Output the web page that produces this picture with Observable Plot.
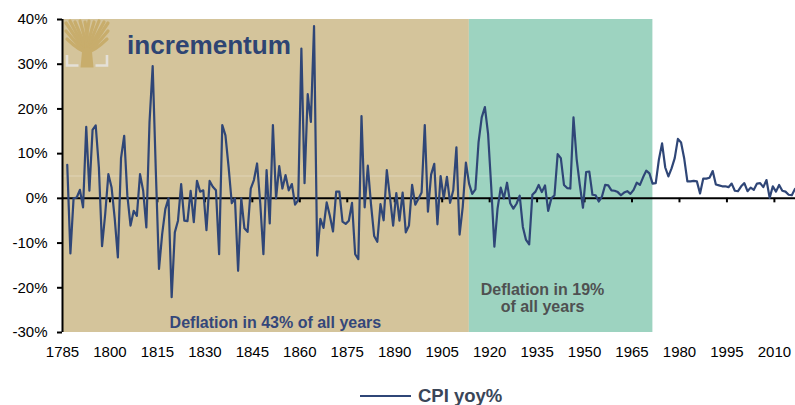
<!DOCTYPE html>
<html>
<head>
<meta charset="utf-8">
<script src="https://cdn.jsdelivr.net/npm/d3@7"></script>
<script src="https://cdn.jsdelivr.net/npm/@observablehq/plot@0.6"></script>
<style>
  body { margin: 0; background: #fff; font-family: "Liberation Sans", Arial, sans-serif; }
  #wrap { position: relative; width: 795px; height: 405px; overflow: hidden; }
  #logo { position: absolute; left: 0; top: 0; pointer-events: none; }
  #legend { position: absolute; left: 0; top: 370px; width: 795px; height: 35px; }
</style>
</head>
<body>
<div id="wrap"></div>
<script>
// ---- data ----
const startYear = 1786;
const cpiYoY = [
  7.5, -12.3, 0, 0.2, 1.9, -2, 16, 1.7, 15.3, 16.3,            // 1786-1795
  6.9, -10.7, -3.5, 5.4, 2.5, -4.5, -13.2, 9, 14, 0.6,          // 1796-1805
  -6.1, -2.8, -3.9, 5.4, 1.7, -6.5, 17, 29.6, 6, -15.8,         // 1806-1815
  -8, -2.4, 0, -22.1, -7.6, -5, 3.2, -5, -5.1, 1.7,             // 1816-1825
  -5.3, 3.9, 1.5, 1.8, -7.1, 3.9, 2.6, 1.8, -12.5, 16.4,        // 1826-1835
  14.1, 7, -1.1, 0, -16.2, 0, -6.7, -7.5, 2.2, 4.1,             // 1836-1845
  7.8, -1.1, -12.5, 6.3, -5.6, 16.4, 0, 7.2, 2.2, 5.2,          // 1846-1855
  1.8, 3.2, -1.4, -0.4, 33.5, 3.4, 23.3, 17.1, 38.5, -12.8,     // 1856-1865
  -4.6, -6.6, -0.9, -3.9, -7.4, 1.5, 1.5, -5.2, -5.7, -5,       // 1866-1875
  -1, -12.5, -13.6, 18.4, -2, 7.3, -1.3, -8.4, -9.7, -1.3,      // 1876-1885
  -4.9, 6.3, 0.2, -6.1, 1.2, -5, 1.3, -7.6, -6.1, 3,            // 1886-1895
  -1.4, -0.1, 1.3, 16.4, -3, 5.3, 7.7, -5.8, 5, 0,              // 1896-1905
  4.8, -1, 1.8, 11.4, -8.1, -1.9, 8, 3.3, 1.0, 2.0,             // 1906-1915
  12.6, 18.1, 20.4, 14.5, 2.6, -10.8, -2.3, 2.4, 0, 3.5,        // 1916-1925
  -1.1, -2.3, -1.2, 0.6, -6.4, -9.3, -10.3, 0.8, 1.5, 3.0,      // 1926-1935
  1.4, 2.9, -2.8, 0, 0.7, 9.9, 9.0, 3.0, 2.3, 2.2,              // 1936-1945
  18.1, 8.8, 3.0, -2.1, 5.9, 6.0, 0.8, 0.7, -0.7, 0.4,          // 1946-1955
  3.0, 2.9, 1.8, 1.7, 1.4, 0.7, 1.3, 1.6, 1.0, 1.9,             // 1956-1965
  3.5, 3.0, 4.7, 6.2, 5.6, 3.3, 3.4, 8.7, 12.3, 6.9,            // 1966-1975
  4.9, 6.7, 9.0, 13.3, 12.5, 8.9, 3.8, 3.8, 3.9, 3.8,           // 1976-1985
  1.1, 4.4, 4.4, 4.6, 6.1, 3.1, 2.9, 2.7, 2.7, 2.5,             // 1986-1995
  3.3, 1.7, 1.6, 2.7, 3.4, 1.6, 2.4, 1.9, 3.3, 3.4,             // 1996-2005
  2.5, 4.1, 0.1, 2.7, 1.5, 3.0, 1.7, 1.5, 0.8, 0.7,             // 2006-2015
  2.1                                                           // 2016
];
const years = cpiYoY.map((_, i) => startYear + i);

const eraStarts = [1785, 1913.6];
const eraEnds = [1913.6, 1971.6];
const eraColors = ["#D4C49B", "#9DD3C0"];

const noteTexts = ["Deflation in 43% of all years", "Deflation in 19%", "of all years"];
const noteYears = [1852.3, 1936.7, 1936.7];
const noteValues = [-27.8, -20.4, -24.3];
const noteColors = ["#34477A", "#4F5151", "#4F5151"];

const xTicks = [1785, 1800, 1815, 1830, 1845, 1860, 1875, 1890, 1905, 1920, 1935, 1950, 1965, 1980, 1995, 2010];
const yTicks = [-30, -20, -10, 0, 10, 20, 30, 40];
const seriesName = "CPI yoy%";
const brandName = "incrementum";

// ---- build tables ----
const series = years.map((year, i) => ({year, value: cpiYoY[i]}));
const eras = eraStarts.map((s, i) => ({x1: s, x2: eraEnds[i], fill: eraColors[i]}));
const notes = noteTexts.map((t, i) => ({text: t, x: noteYears[i], y: noteValues[i], color: noteColors[i]}));

const lineColor = "#2F4677";

const chart = Plot.plot({
  width: 795,
  height: 370,
  marginLeft: 62,
  marginRight: 0,
  marginTop: 19,
  marginBottom: 38,
  x: {domain: [1785, 2016.67]},
  y: {domain: [-30, 40]},
  style: {fontFamily: "'Liberation Sans', Arial, sans-serif", fontSize: "15px", color: "#000", background: "transparent", overflow: "visible"},
  marks: [
    Plot.rect(eras, {x1: "x1", x2: "x2", y1: -30, y2: 40, fill: "fill"}),
    Plot.ruleY([5], {x1: 1785, x2: eraEnds[1], stroke: "#fff", strokeOpacity: 0.3, strokeWidth: 1}),
    Plot.ruleY([0], {stroke: "#000", strokeWidth: 2}),
    Plot.ruleX(xTicks.slice(1), {y1: 0, y2: -1, stroke: "#000", strokeWidth: 2}),
    Plot.ruleX([1785], {y1: -30, y2: 40, stroke: "#000", strokeWidth: 2}),
    Plot.axisY({ticks: yTicks, tickFormat: d => d + "%", tickSize: 5, tickPadding: 10, label: null, strokeWidth: 2, fontSize: 15}),
    Plot.axisX({ticks: xTicks, tickFormat: d => String(d), tickSize: 0, tickPadding: 14, label: null, fontSize: 15}),
    Plot.text(notes, {x: "x", y: "y", text: "text", fill: "color", fontWeight: "bold", fontSize: 16, textAnchor: "middle"}),
    Plot.line(series, {x: d => d.year + 0.5, y: "value", stroke: lineColor, strokeWidth: 2.2, strokeLinejoin: "round"})
  ]
});

const wrap = document.getElementById("wrap");
wrap.appendChild(chart);

// ---- logo overlay (decorative) ----
const ns = "http://www.w3.org/2000/svg";
const logo = document.createElementNS(ns, "svg");
logo.setAttribute("id", "logo");
logo.setAttribute("width", 795);
logo.setAttribute("height", 80);
const gold = "#C8AD6C";
let branches = "";
const tops = [[66,23],[70,21],[75,22],[80,21],[85,22],[89,21],[94,22],[99,21],[104,22],[108,23],[66,31],[108,31],[67,39],[107,39]];
tops.forEach(([tx, ty]) => {
  branches += `<path d="M87,52 Q${(87+tx)/2 + (tx<87?3:-3)},${(52+ty)/2 + 6} ${tx},${ty}" fill="none" stroke="${gold}" stroke-width="3.2" stroke-linecap="round"/>`;
});
logo.innerHTML = `
  <g>
    ${branches}
    <path d="M80.5,67.5 L82,52 Q87,42 92,52 L93.5,67.5 Z" fill="${gold}"/>
    <path d="M67,55 V65.5 H78.5" fill="none" stroke="#E4E0D8" stroke-width="2.6"/>
    <path d="M95.5,65.5 H107 V55" fill="none" stroke="#E4E0D8" stroke-width="2.6"/>
  </g>
  <text x="127" y="53.5" font-family="'Liberation Sans', Arial, sans-serif" font-weight="bold" font-size="26" fill="#2E4473" textLength="164" lengthAdjust="spacingAndGlyphs">${brandName}</text>
`;
wrap.appendChild(logo);

// ---- legend ----
const legend = document.createElement("div");
legend.id = "legend";
legend.innerHTML = `<svg width="795" height="35">
  <line x1="360" x2="411" y1="26" y2="26" stroke="${lineColor}" stroke-width="2"/>
  <text x="418" y="26" dy="0.35em" font-family="'Liberation Sans', Arial, sans-serif" font-weight="bold" font-size="18.5" fill="#3A4658">${seriesName}</text>
</svg>`;
wrap.appendChild(legend);
</script>
</body>
</html>
